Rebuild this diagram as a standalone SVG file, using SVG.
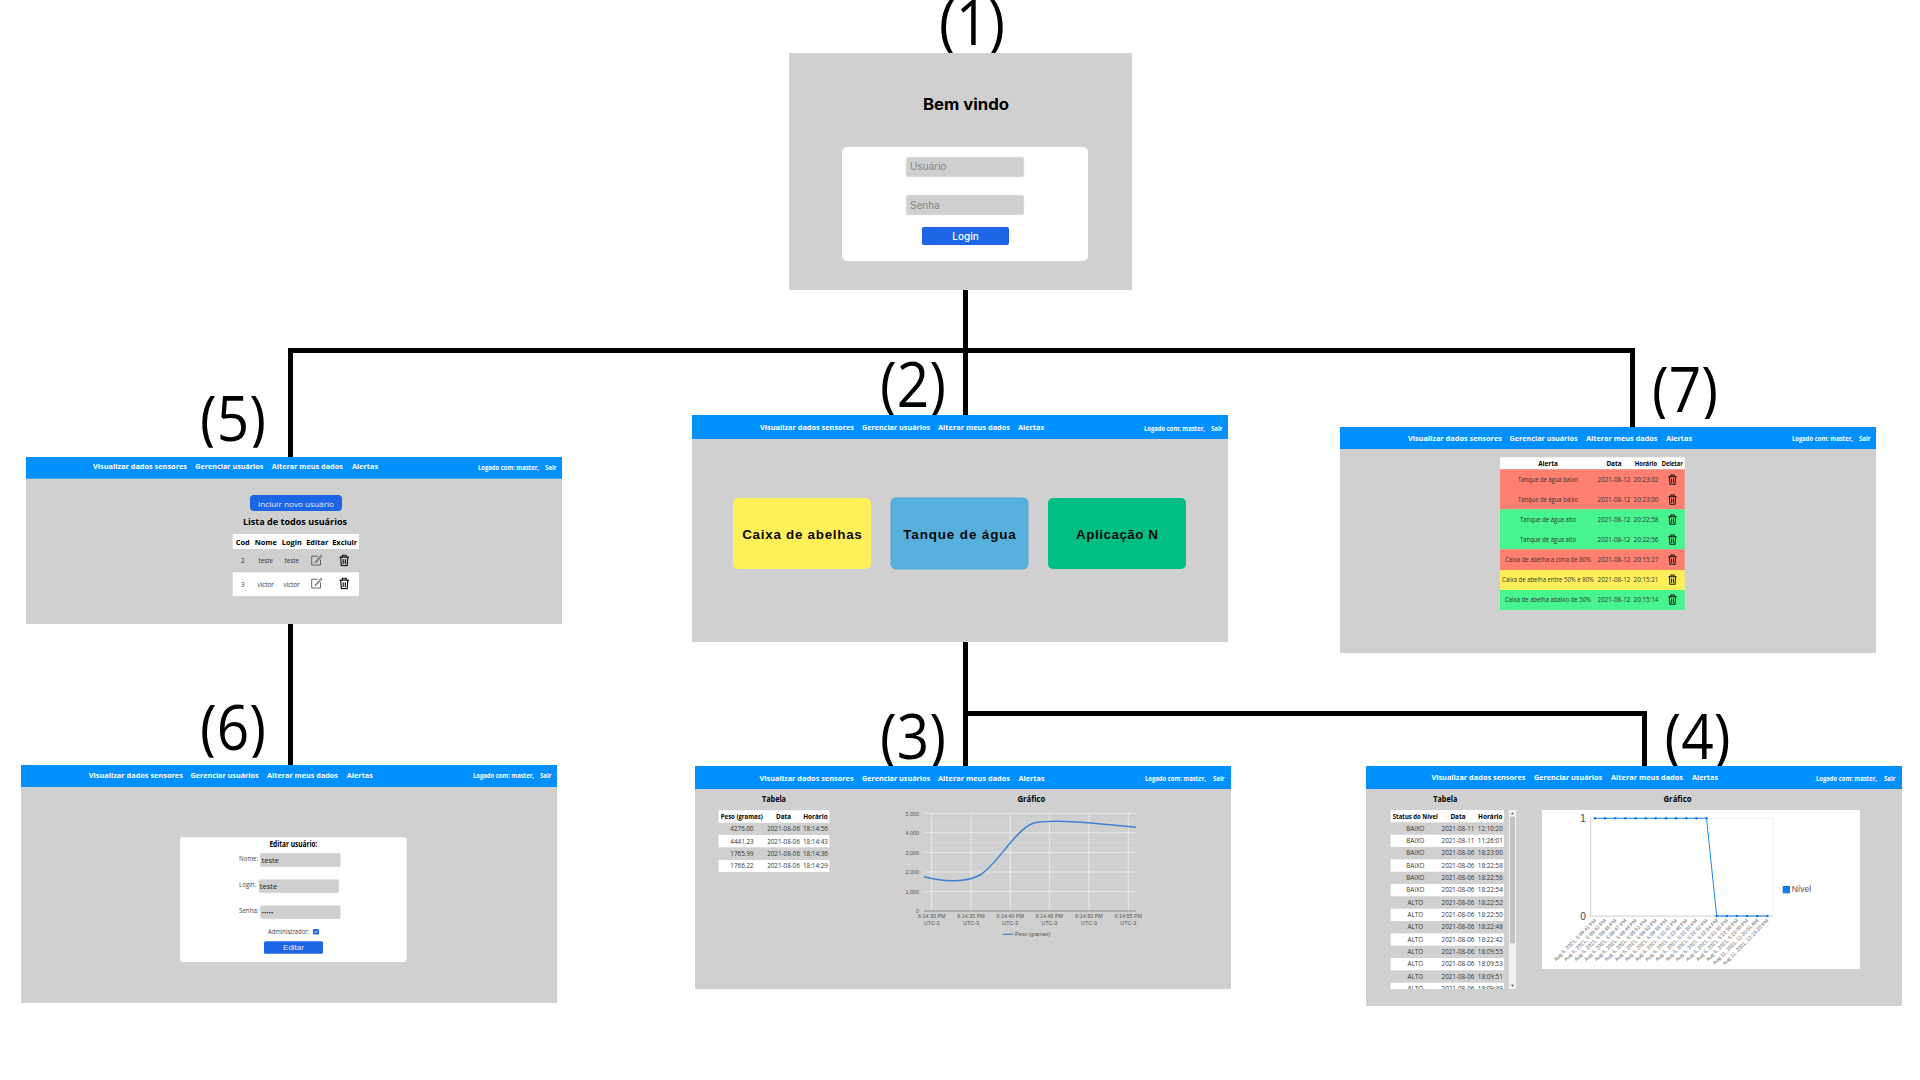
<svg xmlns="http://www.w3.org/2000/svg" xmlns:xlink="http://www.w3.org/1999/xlink" width="1920" height="1080" viewBox="0 0 1920 1080">
<style>
text{font-family:"Open Sans","Noto Sans",sans-serif}
.bg{fill:#d0d0d0}
.bar{fill:#0090ff}
.wh{fill:#fff}
.inp{fill:#cfcfcf;stroke:#eee;stroke-width:.6}
.btn{fill:#1c66e6}
.nav{font-size:7.7px;font-weight:700;fill:#fff}
.nav2{font-size:6.4px;font-weight:700;fill:#fff}
.num{font-size:62px;fill:#000}
.ttl{font-size:8.4px;font-weight:700;fill:#000}
.th{font-size:6.4px;font-weight:700;fill:#000;text-anchor:middle}
.th2{font-size:7.4px;font-weight:700;fill:#000;text-anchor:middle}
.td{font-size:6.3px;fill:#333;text-anchor:middle}
.lb{font-size:6.2px;fill:#444}
.inter{font-family:Inter,"Liberation Sans",sans-serif}
.ar{font-family:"Liberation Sans",Arial,sans-serif}
.ax{font-family:"Liberation Sans",Arial,sans-serif;font-size:5.4px;fill:#555}
.axm{text-anchor:middle}
.axe{text-anchor:end}
.rot{font-family:"Liberation Sans",Arial,sans-serif;font-size:5.2px;fill:#666;text-anchor:end}
.card{font-family:"Liberation Sans",Arial,sans-serif;font-size:13.4px;font-weight:700;fill:#0a0a0a;text-anchor:middle}
.conn{fill:none;stroke:#000;stroke-width:5}
.gmaj{stroke:#e9e9e9;stroke-width:1}
.gmin{stroke:#dadada;stroke-width:.7}
.ic{fill:none;stroke:#111;stroke-width:1.1}
.ie{fill:none;stroke:#555;stroke-width:.9}
</style>
<defs>
<clipPath id="c1"><rect x="900" y="0" width="140" height="53"/></clipPath>
<clipPath id="c2"><rect x="860" y="361" width="100" height="54"/></clipPath>
<clipPath id="c3"><rect x="860" y="711.7" width="100" height="54.3"/></clipPath>
<clipPath id="c4"><rect x="1650" y="711.7" width="100" height="54.3"/></clipPath>
<clipPath id="c5"><rect x="180" y="393" width="100" height="54.7"/></clipPath>
<clipPath id="c6"><rect x="180" y="703" width="100" height="54.7"/></clipPath>
<clipPath id="c7"><rect x="1640" y="365" width="100" height="54"/></clipPath>
<clipPath id="ctab"><rect x="1388" y="810" width="118" height="179"/></clipPath>
<symbol id="trash" viewBox="0 0 12 12"><path class="ic" d="M1.5 3H10.5M4.2 3V1.2H7.8V3M2.6 3L3.2 11.2H8.8L9.4 3ZM5 5V9.5M7 5V9.5"/></symbol>
<symbol id="edit" viewBox="0 0 12 12"><path class="ie" d="M7 2.2H1V11H9.8V5.5M4.8 7.6L10.2 1.2L11.2 2.2L5.6 8.2L4.4 8.8Z"/></symbol>
<marker id="dot" markerUnits="userSpaceOnUse" markerWidth="4" markerHeight="4" refX="2" refY="2"><circle cx="2" cy="2" r="1.3" fill="#0f7be8"/></marker>
</defs>
<rect width="1920" height="1080" fill="#fff"/>

<g id="connectors">
<path class="conn" d="M290.5 457V350.5H1632.5V427"/>
<path class="conn" d="M965.5 290V415"/>
<path class="conn" d="M290.5 624V765"/>
<path class="conn" d="M965.5 642V766"/>
<path class="conn" d="M965.5 713.5H1644.5V766"/>
</g>

<g id="node1">
<text class="num" x="972" y="45" text-anchor="middle" clip-path="url(#c1)" textLength="66" lengthAdjust="spacingAndGlyphs">(1)</text>
<rect class="bg" x="789" y="53" width="343" height="237"/>
<text class="inter" x="966" y="110" text-anchor="middle" font-size="16" font-weight="700" fill="#000" textLength="86" lengthAdjust="spacingAndGlyphs">Bem vindo</text>
<rect class="wh" x="842" y="147" width="246" height="114" rx="5"/>
<rect class="inp" x="906" y="157" width="118" height="20" rx="2"/>
<text class="inter" x="910" y="170" font-size="10" fill="#858585">Usuário</text>
<rect class="inp" x="906" y="195" width="118" height="20" rx="2"/>
<text class="inter" x="910" y="209" font-size="10" fill="#858585">Senha</text>
<rect class="btn" x="922" y="227" width="87" height="18" rx="2"/>
<text class="inter" x="965.5" y="240" text-anchor="middle" font-size="10" font-weight="500" fill="#fff">Login</text>
</g>

<g id="node2">
<text class="num" x="913" y="407" text-anchor="middle" clip-path="url(#c2)" textLength="66" lengthAdjust="spacingAndGlyphs">(2)</text>
<rect class="bg" x="692" y="415" width="536" height="227"/>
<rect class="bar" x="692" y="415" width="536" height="24"/>
<g transform="translate(692 415)">
<text class="nav" x="68" y="15" textLength="94" lengthAdjust="spacingAndGlyphs">Visualizar dados sensores</text>
<text class="nav" x="170" y="15" textLength="68" lengthAdjust="spacingAndGlyphs">Gerenciar usuários</text>
<text class="nav" x="246" y="15" textLength="72" lengthAdjust="spacingAndGlyphs">Alterar meus dados</text>
<text class="nav" x="326" y="15" textLength="26" lengthAdjust="spacingAndGlyphs">Alertas</text>
<text class="nav2" x="452" y="15.5" textLength="61" lengthAdjust="spacingAndGlyphs">Logado com: master,</text>
<text class="nav2" x="519" y="15.5" textLength="11.5" lengthAdjust="spacingAndGlyphs">Sair</text>
</g>
<rect x="733" y="498" width="138" height="71" rx="5" fill="#fff05a"/>
<text class="card" x="802" y="539" textLength="119.6">Caixa de abelhas</text>
<rect x="891" y="498" width="137" height="71" rx="5" fill="#57b0dc" stroke="#4da5d4" stroke-width="1"/>
<text class="card" x="959.5" y="539" textLength="112.5">Tanque de água</text>
<rect x="1048" y="498" width="138" height="71" rx="5" fill="#00be84"/>
<text class="card" x="1117" y="539" textLength="82">Aplicação N</text>
</g>

<g id="node3">
<text class="num" x="913" y="759" text-anchor="middle" clip-path="url(#c3)" textLength="66" lengthAdjust="spacingAndGlyphs">(3)</text>
<rect class="bg" x="695" y="766" width="536" height="223"/>
<rect class="bar" x="695" y="766" width="536" height="23"/>
<g transform="translate(695 766)">
<text class="nav" x="64.6" y="14.7" textLength="94" lengthAdjust="spacingAndGlyphs">Visualizar dados sensores</text>
<text class="nav" x="167" y="14.7" textLength="68" lengthAdjust="spacingAndGlyphs">Gerenciar usuários</text>
<text class="nav" x="243" y="14.7" textLength="72" lengthAdjust="spacingAndGlyphs">Alterar meus dados</text>
<text class="nav" x="323.5" y="14.7" textLength="26" lengthAdjust="spacingAndGlyphs">Alertas</text>
<text class="nav2" x="450" y="15.2" textLength="61" lengthAdjust="spacingAndGlyphs">Logado com: master,</text>
<text class="nav2" x="518" y="15.2" textLength="11.5" lengthAdjust="spacingAndGlyphs">Sair</text>
</g>
<text class="ttl" x="774" y="802" text-anchor="middle" textLength="24" lengthAdjust="spacingAndGlyphs">Tabela</text>
<rect class="wh" x="718.6" y="810.3" width="110.7" height="12.4"/>
<rect class="wh" x="718.6" y="835" width="110.7" height="12.3"/>
<rect class="wh" x="718.6" y="860" width="110.7" height="12"/>
<text class="th" x="741.8" y="819" textLength="42" lengthAdjust="spacingAndGlyphs">Peso (gramas)</text>
<text class="th" x="783.6" y="819">Data</text>
<text class="th" x="815.4" y="819">Horário</text>
<text class="td" x="742" y="831.3">4276.00</text><text class="td" x="783.6" y="831.3">2021-08-06</text><text class="td" x="815.4" y="831.3">18:14:56</text>
<text class="td" x="742" y="843.7">4441.23</text><text class="td" x="783.6" y="843.7">2021-08-06</text><text class="td" x="815.4" y="843.7">18:14:43</text>
<text class="td" x="742" y="856">1765.99</text><text class="td" x="783.6" y="856">2021-08-06</text><text class="td" x="815.4" y="856">18:14:36</text>
<text class="td" x="742" y="868.3">1766.22</text><text class="td" x="783.6" y="868.3">2021-08-06</text><text class="td" x="815.4" y="868.3">18:14:29</text>
<text class="ttl" x="1031.4" y="802" text-anchor="middle" textLength="28" lengthAdjust="spacingAndGlyphs">Gráfico</text>
<path class="gmin" d="M924 823H1136M924 842.5H1136M924 862H1136M924 881.8H1136M924 901.4H1136"/>
<path class="gmaj" d="M924 813.3H1136M924 832.7H1136M924 852.3H1136M924 872H1136M924 891.7H1136M931.7 813.3V911M971 813.3V911M1010.3 813.3V911M1049.3 813.3V911M1089 813.3V911M1128.3 813.3V911"/>
<path d="M924 911H1136" stroke="#888" stroke-width="1"/>
<path d="M924 876.7C935 879.5 945 881 955 880.7C965 880.5 973 879 980 875C990 869 1000 855 1010 843.3C1018 834 1026 825 1035 822.7C1042 821.3 1050 821.2 1058 821.2C1075 821.3 1100 823.5 1136 827.3" fill="none" stroke="#3f7fd8" stroke-width="1.5"/>
<text class="ax axe" x="919" y="815.5">5,000</text>
<text class="ax axe" x="919" y="835">4,000</text>
<text class="ax axe" x="919" y="854.5">3,000</text>
<text class="ax axe" x="919" y="874.2">2,000</text>
<text class="ax axe" x="919" y="894">1,000</text>
<text class="ax axe" x="919" y="913">0</text>
<text class="ax axm" x="931.7" y="918.3">6:14:30 PM</text><text class="ax axm" x="931.7" y="925.3">UTC-3</text>
<text class="ax axm" x="971" y="918.3">6:14:35 PM</text><text class="ax axm" x="971" y="925.3">UTC-3</text>
<text class="ax axm" x="1010.3" y="918.3">6:14:40 PM</text><text class="ax axm" x="1010.3" y="925.3">UTC-3</text>
<text class="ax axm" x="1049.3" y="918.3">6:14:45 PM</text><text class="ax axm" x="1049.3" y="925.3">UTC-3</text>
<text class="ax axm" x="1089" y="918.3">6:14:50 PM</text><text class="ax axm" x="1089" y="925.3">UTC-3</text>
<text class="ax axm" x="1128.3" y="918.3">6:14:55 PM</text><text class="ax axm" x="1128.3" y="925.3">UTC-3</text>
<path d="M1002.7 934.3H1013.3" stroke="#3f7fd8" stroke-width="1.2"/>
<text class="ax" x="1015" y="936">Peso (gramas)</text>
</g>

<g id="node4">
<text class="num" x="1697.5" y="759" text-anchor="middle" clip-path="url(#c4)" textLength="66" lengthAdjust="spacingAndGlyphs">(4)</text>
<rect class="bg" x="1366" y="766" width="536" height="240"/>
<rect class="bar" x="1366" y="766" width="536" height="23"/>
<g transform="translate(1366 766)">
<text class="nav" x="65.4" y="14.3" textLength="94" lengthAdjust="spacingAndGlyphs">Visualizar dados sensores</text>
<text class="nav" x="168" y="14.3" textLength="68" lengthAdjust="spacingAndGlyphs">Gerenciar usuários</text>
<text class="nav" x="245" y="14.3" textLength="72" lengthAdjust="spacingAndGlyphs">Alterar meus dados</text>
<text class="nav" x="326" y="14.3" textLength="26" lengthAdjust="spacingAndGlyphs">Alertas</text>
<text class="nav2" x="450" y="14.8" textLength="61" lengthAdjust="spacingAndGlyphs">Logado com: master,</text>
<text class="nav2" x="518" y="14.8" textLength="11.5" lengthAdjust="spacingAndGlyphs">Sair</text>
</g>
<text class="ttl" x="1445.3" y="802" text-anchor="middle" textLength="24" lengthAdjust="spacingAndGlyphs">Tabela</text>
<rect class="wh" x="1390.7" y="810" width="113.3" height="12.3"/>
<text class="th" x="1415.3" y="818.7" textLength="45" lengthAdjust="spacingAndGlyphs">Status do Nível</text>
<text class="th" x="1458" y="818.7">Data</text>
<text class="th" x="1490.3" y="818.7">Horário</text>
<g clip-path="url(#ctab)">
<rect class="wh" x="1390.7" y="834.7" width="113.3" height="12.3"/>
<rect class="wh" x="1390.7" y="859.4" width="113.3" height="12.3"/>
<rect class="wh" x="1390.7" y="884" width="113.3" height="12.3"/>
<rect class="wh" x="1390.7" y="908.7" width="113.3" height="12.3"/>
<rect class="wh" x="1390.7" y="933.4" width="113.3" height="12.3"/>
<rect class="wh" x="1390.7" y="958" width="113.3" height="12.3"/>
<rect class="wh" x="1390.7" y="982.7" width="113.3" height="12.3"/>
<text class="td" x="1415.3" y="830.7">BAIXO</text><text class="td" x="1458" y="830.7">2021-08-11</text><text class="td" x="1490.3" y="830.7">12:10:20</text>
<text class="td" x="1415.3" y="843">BAIXO</text><text class="td" x="1458" y="843">2021-08-11</text><text class="td" x="1490.3" y="843">11:26:01</text>
<text class="td" x="1415.3" y="855.4">BAIXO</text><text class="td" x="1458" y="855.4">2021-08-06</text><text class="td" x="1490.3" y="855.4">18:23:00</text>
<text class="td" x="1415.3" y="867.7">BAIXO</text><text class="td" x="1458" y="867.7">2021-08-06</text><text class="td" x="1490.3" y="867.7">18:22:58</text>
<text class="td" x="1415.3" y="880">BAIXO</text><text class="td" x="1458" y="880">2021-08-06</text><text class="td" x="1490.3" y="880">18:22:56</text>
<text class="td" x="1415.3" y="892.4">BAIXO</text><text class="td" x="1458" y="892.4">2021-08-06</text><text class="td" x="1490.3" y="892.4">18:22:54</text>
<text class="td" x="1415.3" y="904.7">ALTO</text><text class="td" x="1458" y="904.7">2021-08-06</text><text class="td" x="1490.3" y="904.7">18:22:52</text>
<text class="td" x="1415.3" y="917">ALTO</text><text class="td" x="1458" y="917">2021-08-06</text><text class="td" x="1490.3" y="917">18:22:50</text>
<text class="td" x="1415.3" y="929.3">ALTO</text><text class="td" x="1458" y="929.3">2021-08-06</text><text class="td" x="1490.3" y="929.3">18:22:48</text>
<text class="td" x="1415.3" y="941.7">ALTO</text><text class="td" x="1458" y="941.7">2021-08-06</text><text class="td" x="1490.3" y="941.7">18:22:42</text>
<text class="td" x="1415.3" y="954">ALTO</text><text class="td" x="1458" y="954">2021-08-06</text><text class="td" x="1490.3" y="954">18:09:55</text>
<text class="td" x="1415.3" y="966.3">ALTO</text><text class="td" x="1458" y="966.3">2021-08-06</text><text class="td" x="1490.3" y="966.3">18:09:53</text>
<text class="td" x="1415.3" y="978.7">ALTO</text><text class="td" x="1458" y="978.7">2021-08-06</text><text class="td" x="1490.3" y="978.7">18:09:51</text>
<text class="td" x="1415.3" y="991">ALTO</text><text class="td" x="1458" y="991">2021-08-06</text><text class="td" x="1490.3" y="991">18:09:49</text>
</g>
<rect x="1509" y="810" width="7" height="179" fill="#f1f1f1"/>
<rect x="1510" y="816.7" width="5" height="126.6" fill="#c1c1c1"/>
<path d="M1512.5 812.3l1.5 1.9h-3zM1512.5 986.7l1.5-1.9h-3z" fill="#555"/>
<text class="ttl" x="1677.5" y="802" text-anchor="middle" textLength="28" lengthAdjust="spacingAndGlyphs">Gráfico</text>
<rect class="wh" x="1542" y="810" width="318" height="159"/>
<path d="M1590.7 818.3H1773V916" fill="none" stroke="#eee" stroke-width="1"/>
<path d="M1590.7 818.3V916H1773" fill="none" stroke="#ccc" stroke-width="1"/>
<polyline points="1595,818.3 1605.1,818.3 1615.3,818.3 1625.4,818.3 1635.6,818.3 1645.7,818.3 1655.8,818.3 1666,818.3 1676.1,818.3 1686.3,818.3 1696.4,818.3 1706.5,818.3 1716.7,916 1726.8,916 1737,916 1747.1,916 1757.2,916 1767.4,916" fill="none" stroke="#1a85f0" stroke-width="1" marker-start="url(#dot)" marker-mid="url(#dot)" marker-end="url(#dot)"/>
<text class="ar" x="1585.7" y="822" text-anchor="end" font-size="10" fill="#444">1</text>
<text class="ar" x="1585.7" y="920" text-anchor="end" font-size="10" fill="#444">0</text>
<text class="rot" transform="translate(1596.5 921) rotate(-45)">Aug 6, 2021, 6:09:41 PM</text>
<text class="rot" transform="translate(1606.6 921) rotate(-45)">Aug 6, 2021, 6:09:43 PM</text>
<text class="rot" transform="translate(1616.8 921) rotate(-45)">Aug 6, 2021, 6:09:45 PM</text>
<text class="rot" transform="translate(1626.9 921) rotate(-45)">Aug 6, 2021, 6:09:47 PM</text>
<text class="rot" transform="translate(1637.1 921) rotate(-45)">Aug 6, 2021, 6:09:49 PM</text>
<text class="rot" transform="translate(1647.2 921) rotate(-45)">Aug 6, 2021, 6:09:51 PM</text>
<text class="rot" transform="translate(1657.3 921) rotate(-45)">Aug 6, 2021, 6:09:53 PM</text>
<text class="rot" transform="translate(1667.5 921) rotate(-45)">Aug 6, 2021, 6:09:55 PM</text>
<text class="rot" transform="translate(1677.6 921) rotate(-45)">Aug 6, 2021, 6:22:42 PM</text>
<text class="rot" transform="translate(1687.8 921) rotate(-45)">Aug 6, 2021, 6:22:48 PM</text>
<text class="rot" transform="translate(1697.9 921) rotate(-45)">Aug 6, 2021, 6:22:50 PM</text>
<text class="rot" transform="translate(1708 921) rotate(-45)">Aug 6, 2021, 6:22:52 PM</text>
<text class="rot" transform="translate(1718.2 921) rotate(-45)">Aug 6, 2021, 6:22:54 PM</text>
<text class="rot" transform="translate(1728.3 921) rotate(-45)">Aug 6, 2021, 6:22:56 PM</text>
<text class="rot" transform="translate(1738.5 921) rotate(-45)">Aug 6, 2021, 6:22:58 PM</text>
<text class="rot" transform="translate(1748.6 921) rotate(-45)">Aug 6, 2021, 6:23:00 PM</text>
<text class="rot" transform="translate(1758.7 921) rotate(-45)">Aug 11, 2021, 11:26:01 AM</text>
<text class="rot" transform="translate(1768.9 921) rotate(-45)">Aug 11, 2021, 12:10:20 PM</text>
<rect x="1782.7" y="886" width="7.3" height="7.3" fill="#0f7be8"/>
<text class="ar" x="1791.7" y="892" font-size="8.5" fill="#555">Nível</text>
</g>

<g id="node5">
<text class="num" x="233" y="441" text-anchor="middle" clip-path="url(#c5)" textLength="66" lengthAdjust="spacingAndGlyphs">(5)</text>
<rect class="bg" x="26" y="457" width="536" height="167"/>
<rect class="bar" x="26" y="457" width="536" height="21.7"/>
<g transform="translate(26 457)">
<text class="nav" x="67" y="12.3" textLength="94" lengthAdjust="spacingAndGlyphs">Visualizar dados sensores</text>
<text class="nav" x="169.3" y="12.3" textLength="68" lengthAdjust="spacingAndGlyphs">Gerenciar usuários</text>
<text class="nav" x="245.8" y="12.3" textLength="71" lengthAdjust="spacingAndGlyphs">Alterar meus dados</text>
<text class="nav" x="326" y="12.3" textLength="26" lengthAdjust="spacingAndGlyphs">Alertas</text>
<text class="nav2" x="452" y="12.8" textLength="61" lengthAdjust="spacingAndGlyphs">Logado com: master,</text>
<text class="nav2" x="519" y="12.8" textLength="11.5" lengthAdjust="spacingAndGlyphs">Sair</text>
</g>
<rect class="btn" x="250" y="495" width="92" height="16" rx="4"/>
<text x="296" y="506.5" text-anchor="middle" font-size="8" fill="#e8eefc" textLength="76" lengthAdjust="spacingAndGlyphs">Incluir novo usuário</text>
<text class="ttl" x="295" y="525" text-anchor="middle" textLength="104" lengthAdjust="spacingAndGlyphs">Lista de todos usuários</text>
<rect class="wh" x="232.7" y="534" width="126.3" height="15"/>
<text class="th2" x="242.7" y="544.7">Cod</text>
<text class="th2" x="265.8" y="544.7">Nome</text>
<text class="th2" x="291.8" y="544.7">Login</text>
<text class="th2" x="317.3" y="544.7">Editar</text>
<text class="th2" x="344.7" y="544.7">Excluir</text>
<text class="td" x="242.7" y="563">2</text><text class="td" x="265.7" y="563">teste</text><text class="td" x="291.7" y="563">teste</text>
<use href="#edit" x="310.7" y="554" width="12" height="12"/>
<use href="#trash" x="338" y="554" width="12.5" height="12.5"/>
<rect class="wh" x="232.7" y="572.3" width="126.3" height="23.7"/>
<text class="td" x="242.7" y="586.7">3</text><text class="td" x="265.7" y="586.7">victor</text><text class="td" x="291.7" y="586.7">victor</text>
<use href="#edit" x="310.7" y="577" width="12" height="12"/>
<use href="#trash" x="338" y="577" width="12.5" height="12.5"/>
</g>

<g id="node6">
<text class="num" x="233" y="750" text-anchor="middle" clip-path="url(#c6)" textLength="66" lengthAdjust="spacingAndGlyphs">(6)</text>
<rect class="bg" x="21" y="765" width="536" height="238"/>
<rect class="bar" x="21" y="765" width="536" height="22"/>
<g transform="translate(21 765)">
<text class="nav" x="67.8" y="12.7" textLength="94" lengthAdjust="spacingAndGlyphs">Visualizar dados sensores</text>
<text class="nav" x="169.5" y="12.7" textLength="68" lengthAdjust="spacingAndGlyphs">Gerenciar usuários</text>
<text class="nav" x="246" y="12.7" textLength="71" lengthAdjust="spacingAndGlyphs">Alterar meus dados</text>
<text class="nav" x="325.8" y="12.7" textLength="26" lengthAdjust="spacingAndGlyphs">Alertas</text>
<text class="nav2" x="452" y="13.2" textLength="61" lengthAdjust="spacingAndGlyphs">Logado com: master,</text>
<text class="nav2" x="519" y="13.2" textLength="11.5" lengthAdjust="spacingAndGlyphs">Sair</text>
</g>
<rect class="wh" x="180" y="837.3" width="226.6" height="124.7" rx="3"/>
<text class="ttl" x="293.4" y="847.3" text-anchor="middle" textLength="48" lengthAdjust="spacingAndGlyphs">Editar usuário:</text>
<text class="lb" x="239" y="861.3">Nome:</text>
<rect class="inp" x="260" y="853" width="80.7" height="14" rx="2"/>
<text x="261.5" y="862.7" font-size="7.6" fill="#222">teste</text>
<text class="lb" x="239" y="887.3">Login:</text>
<rect class="inp" x="258.6" y="879.3" width="80.4" height="13.7" rx="2"/>
<text x="259.7" y="888.7" font-size="7.6" fill="#222">teste</text>
<text class="lb" x="239" y="913.3">Senha:</text>
<rect class="inp" x="260" y="905.3" width="80.7" height="13.7" rx="2"/>
<text x="261.5" y="914.5" font-size="6" fill="#222" textLength="12" lengthAdjust="spacingAndGlyphs">•••••</text>
<text class="lb" x="268" y="934" textLength="41.3" lengthAdjust="spacingAndGlyphs">Administrador:</text>
<rect x="313" y="929" width="6" height="5.4" rx="1" fill="#1c66e6"/>
<path d="M314.2 931.8l1.2 1.1 2.2-2.6" fill="none" stroke="#fff" stroke-width=".8"/>
<rect class="btn" x="264" y="941.3" width="59" height="12.4" rx="1.5"/>
<text class="ar" x="293.5" y="950" text-anchor="middle" font-size="8" fill="#e8eefc">Editar</text>
</g>

<g id="node7">
<text class="num" x="1685" y="412" text-anchor="middle" clip-path="url(#c7)" textLength="66" lengthAdjust="spacingAndGlyphs">(7)</text>
<rect class="bg" x="1340" y="427" width="536" height="226"/>
<rect class="bar" x="1340" y="427" width="536" height="22"/>
<g transform="translate(1340 427)">
<text class="nav" x="67.9" y="13.7" textLength="94" lengthAdjust="spacingAndGlyphs">Visualizar dados sensores</text>
<text class="nav" x="169.6" y="13.7" textLength="68" lengthAdjust="spacingAndGlyphs">Gerenciar usuários</text>
<text class="nav" x="246" y="13.7" textLength="71.5" lengthAdjust="spacingAndGlyphs">Alterar meus dados</text>
<text class="nav" x="326" y="13.7" textLength="26" lengthAdjust="spacingAndGlyphs">Alertas</text>
<text class="nav2" x="452" y="14.2" textLength="61" lengthAdjust="spacingAndGlyphs">Logado com: master,</text>
<text class="nav2" x="519" y="14.2" textLength="11.5" lengthAdjust="spacingAndGlyphs">Sair</text>
</g>
<rect class="wh" x="1500" y="457.3" width="184.7" height="12"/>
<rect x="1500" y="469.3" width="184.7" height="40" fill="#ff7f70"/>
<rect x="1500" y="509.3" width="184.7" height="40" fill="#47f48f"/>
<rect x="1500" y="549.3" width="184.7" height="20.7" fill="#ff7f70"/>
<rect x="1500" y="570" width="184.7" height="20" fill="#fff05a"/>
<rect x="1500" y="590" width="184.7" height="20" fill="#47f48f"/>
<text class="th" x="1548" y="465.7">Alerta</text>
<text class="th" x="1614" y="465.7">Data</text>
<text class="th" x="1646" y="465.7" textLength="22.5" lengthAdjust="spacingAndGlyphs">Horário</text>
<text class="th" x="1672.3" y="465.7" textLength="21" lengthAdjust="spacingAndGlyphs">Deletar</text>
<text class="td" x="1548" y="481.7" textLength="60" lengthAdjust="spacingAndGlyphs">Tanque de água baixo</text><text class="td" x="1614" y="481.7">2021-08-12</text><text class="td" x="1646" y="481.7">20:23:02</text>
<text class="td" x="1548" y="501.7" textLength="60" lengthAdjust="spacingAndGlyphs">Tanque de água baixo</text><text class="td" x="1614" y="501.7">2021-08-12</text><text class="td" x="1646" y="501.7">20:23:00</text>
<text class="td" x="1548" y="522" textLength="56" lengthAdjust="spacingAndGlyphs">Tanque de água alto</text><text class="td" x="1614" y="522">2021-08-12</text><text class="td" x="1646" y="522">20:22:58</text>
<text class="td" x="1548" y="542" textLength="56" lengthAdjust="spacingAndGlyphs">Tanque de água alto</text><text class="td" x="1614" y="542">2021-08-12</text><text class="td" x="1646" y="542">20:22:56</text>
<text class="td" x="1548" y="562" textLength="86" lengthAdjust="spacingAndGlyphs">Caixa de abelha a cima de 80%</text><text class="td" x="1614" y="562">2021-08-12</text><text class="td" x="1646" y="562">20:15:27</text>
<text class="td" x="1548" y="582" textLength="92" lengthAdjust="spacingAndGlyphs">Caixa de abelha entre 50% e 80%</text><text class="td" x="1614" y="582">2021-08-12</text><text class="td" x="1646" y="582">20:15:21</text>
<text class="td" x="1548" y="602" textLength="86" lengthAdjust="spacingAndGlyphs">Caixa de abelha abaixo de 50%</text><text class="td" x="1614" y="602">2021-08-12</text><text class="td" x="1646" y="602">20:15:14</text>
<use href="#trash" x="1667" y="474" width="11" height="11"/>
<use href="#trash" x="1667" y="494" width="11" height="11"/>
<use href="#trash" x="1667" y="514" width="11" height="11"/>
<use href="#trash" x="1667" y="534" width="11" height="11"/>
<use href="#trash" x="1667" y="554" width="11" height="11"/>
<use href="#trash" x="1667" y="574" width="11" height="11"/>
<use href="#trash" x="1667" y="594" width="11" height="11"/>
</g>
</svg>
